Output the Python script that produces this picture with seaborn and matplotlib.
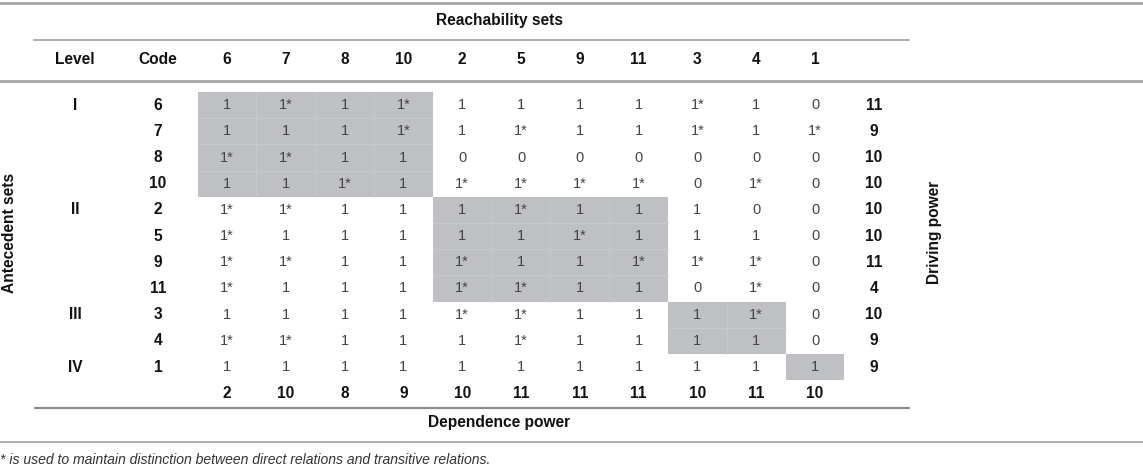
import numpy as np
import pandas as pd
import matplotlib.pyplot as plt
import seaborn as sns
from matplotlib.colors import ListedColormap
from matplotlib.lines import Line2D

# table content
levels = ['I', 'II', 'III', 'IV']
level_codes = [[6, 7, 8, 10], [2, 5, 9, 11], [3, 4], [1]]
codes = [c for grp in level_codes for c in grp]
reach = [
    ['1', '1*', '1', '1*', '1', '1', '1', '1', '1*', '1', '0'],
    ['1', '1', '1', '1*', '1', '1*', '1', '1', '1*', '1', '1*'],
    ['1*', '1*', '1', '1', '0', '0', '0', '0', '0', '0', '0'],
    ['1', '1', '1*', '1', '1*', '1*', '1*', '1*', '0', '1*', '0'],
    ['1*', '1*', '1', '1', '1', '1*', '1', '1', '1', '0', '0'],
    ['1*', '1', '1', '1', '1', '1', '1*', '1', '1', '1', '0'],
    ['1*', '1*', '1', '1', '1*', '1', '1', '1*', '1*', '1*', '0'],
    ['1*', '1', '1', '1', '1*', '1*', '1', '1', '0', '1*', '0'],
    ['1', '1', '1', '1', '1*', '1*', '1', '1', '1', '1*', '0'],
    ['1*', '1*', '1', '1', '1', '1*', '1', '1', '1', '1', '0'],
    ['1', '1', '1', '1', '1', '1', '1', '1', '1', '1', '1'],
]
driving = [11, 9, 10, 10, 10, 10, 11, 4, 10, 9, 9]
dependence = [2, 10, 8, 9, 10, 11, 11, 11, 10, 11, 10]

W, H = 1143, 466
sns.set_theme(style='white')
plt.rcParams['font.family'] = ['Liberation Sans', 'DejaVu Sans']

fig = plt.figure(figsize=(W / 100, H / 100), dpi=100)


def fx(x):
    return x / W


def fy(y):
    return 1 - y / H


def hline(y, x0, x1, lw=1.5, color='#a6a6a6'):
    fig.add_artist(Line2D([fx(x0), fx(x1)], [fy(y), fy(y)], lw=lw, color=color))


def ftext(x, y, s, **kw):
    kw.setdefault('ha', 'center')
    kw.setdefault('va', 'center')
    fig.text(fx(x), fy(y), s, **kw)


# cell grid
x0, cw = 197.6, 58.8
y0, rh = 92.0, 26.2
n = len(codes)

row_level = [i for i, grp in enumerate(level_codes) for _ in grp]
shade = pd.DataFrame([[1 if row_level[r] == row_level[c] else 0 for c in range(n)]
                      for r in range(n)], index=codes, columns=codes)
labels = np.array(reach)

ax = fig.add_axes([fx(x0), fy(y0 + rh * n), cw * n / W, rh * n / H])
sns.heatmap(shade, ax=ax, cmap=ListedColormap(['#ffffff', '#bfc0c3']), vmin=0, vmax=1,
            cbar=False, annot=labels, fmt='', linewidths=0,
            annot_kws={'fontsize': 10.5, 'color': '#444444'})
ax.set_xticks([])
ax.set_yticks([])
ax.set_xlabel('')
ax.set_ylabel('')
for s in ax.spines.values():
    s.set_visible(False)

# faint cell borders inside the shaded blocks
start = 0
for grp in level_codes:
    k = len(grp)
    for t in range(1, k):
        ax.plot([start, start + k], [start + t, start + t], color='#c9cacd', lw=0.6)
        ax.plot([start + t, start + t], [start, start + k], color='#c9cacd', lw=0.6)
    start += k

bold = dict(fontsize=11.2, fontweight='bold', color='#111111')

# header
ftext(499, 21, 'Reachability sets', **bold)
ftext(75, 60, 'Level', **bold)
ftext(158, 60, 'Code', **bold)
for j, c in enumerate(codes):
    ftext(x0 + cw * (j + 0.5), 60, str(c), **bold)

# rows
for i, c in enumerate(codes):
    yc = y0 + rh * (i + 0.5)
    ftext(158, yc, str(c), **bold)
    ftext(x0 + cw * (n + 0.5), yc, str(driving[i]), **bold)
start = 0
for lv, grp in zip(levels, level_codes):
    ftext(75, y0 + rh * (start + 0.5), lv, **bold)
    start += len(grp)

for j, d in enumerate(dependence):
    ftext(x0 + cw * (j + 0.5), y0 + rh * (n + 0.5), str(d), **bold)

ftext(499, 422, 'Dependence power', **bold)
ftext(10, 233, 'Antecedent sets', rotation=90, **bold)
ftext(934, 232, 'Driving power', rotation=90, **bold)

# rules
hline(3, 0, W, lw=2.0)
hline(40, 34, 909, lw=1.3)
hline(81, 0, W, lw=2.0)
hline(408, 35, 909, lw=1.6, color='#8c8c8c')
hline(442, 0, W, lw=1.3)

ftext(0, 460, '* is used to maintain distinction between direct relations and transitive relations.',
      ha='left', fontsize=10.1, style='italic', color='#333333')

fig.savefig('out.png', dpi=100)
